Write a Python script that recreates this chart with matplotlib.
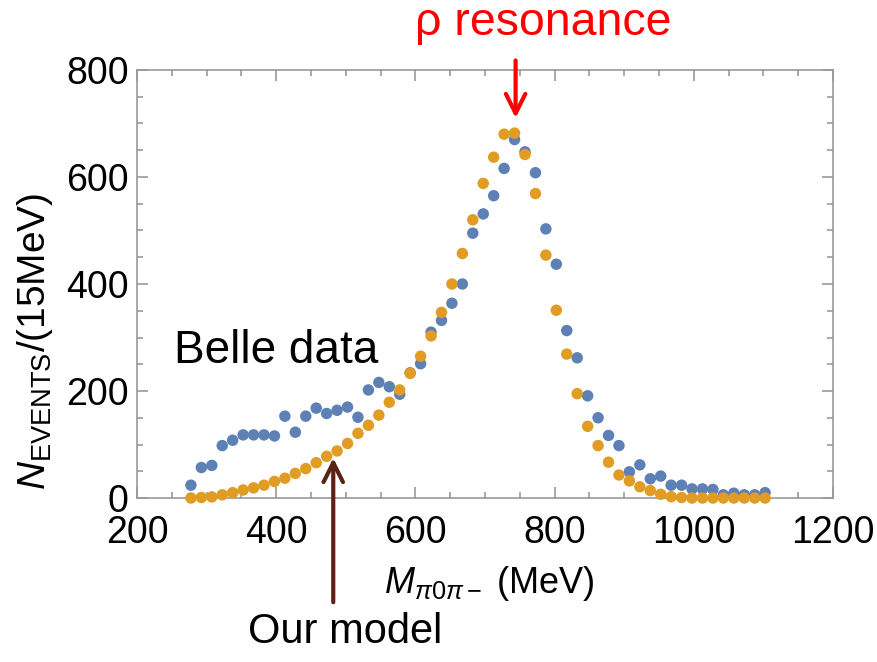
import numpy as np
import matplotlib
matplotlib.use("Agg")
import matplotlib.pyplot as plt
from matplotlib.ticker import MultipleLocator

plt.rcParams['font.family'] = ['Liberation Sans', 'DejaVu Sans']
plt.rcParams['mathtext.fontset'] = 'custom'
plt.rcParams['mathtext.rm'] = 'Liberation Sans'
plt.rcParams['mathtext.it'] = 'Liberation Sans:italic'

# bin centres (MeV), 15 MeV bins
mass = 277.5 + 15 * np.arange(56)

belle = [24, 57, 61, 98, 108, 118, 118, 118, 116, 153,
         123, 153, 168, 158, 164, 170, 151, 202, 216, 208,
         194, 234, 251, 310, 332, 364, 400, 495, 531, 565,
         616, 670, 647, 608, 503, 437, 313, 262, 191, 150,
         117, 98, 49, 62, 36, 41, 24, 24, 17, 17,
         16, 6, 9, 6, 6, 10]

model = [0, 1, 2, 6, 10, 15, 19, 24, 31, 37,
         46, 55, 66, 78, 88, 102, 121, 136, 155, 179,
         202, 233, 265, 303, 347, 400, 457, 520, 588, 637,
         680, 682, 642, 569, 454, 351, 269, 195, 134, 98,
         67, 43, 32, 21, 14, 7, 2.5, 1, 0, 0,
         0, 0, 0, 0, 0, 0]

color_belle = "#5e81b5"
color_model = "#e19c24"
frame_col = "#999999"

fig = plt.figure(figsize=(8.77, 6.62), dpi=100)
ax = fig.add_axes([0.1562, 0.2477, 0.7936, 0.6466])

ax.scatter(mass, belle, s=68, color=color_belle, edgecolors='none', zorder=3, clip_on=False)
ax.scatter(mass, model, s=68, color=color_model, edgecolors='none', zorder=4, clip_on=False)

ax.set_xlim(200, 1200)
ax.set_ylim(0, 800)
ax.xaxis.set_major_locator(MultipleLocator(200))
ax.xaxis.set_minor_locator(MultipleLocator(50))
ax.yaxis.set_major_locator(MultipleLocator(200))
ax.yaxis.set_minor_locator(MultipleLocator(50))
ax.tick_params(which='both', direction='in', top=True, right=True, color=frame_col, width=1.2)
ax.tick_params(which='major', length=8, labelsize=27)
ax.tick_params(which='minor', length=4.5)
ax.tick_params(axis='x', pad=12)
ax.tick_params(axis='y', pad=6)
for sp in ax.spines.values():
    sp.set_color(frame_col)
    sp.set_linewidth(1.2)

fig.text(0.04, 0.485, r'$N_{\mathrm{EVENTS}}$/(15MeV)', rotation=90, fontsize=28,
         ha='center', va='center')
fig.text(0.558, 0.119, r'$M_{\pi0\pi-}$ (MeV)', fontsize=26, ha='center', va='center')

# annotations
ax.annotate('', xy=(744, 705), xytext=(744, 823), annotation_clip=False,
            arrowprops=dict(arrowstyle='->', color='#ff0000', lw=3, mutation_scale=35))
fig.text(0.619, 0.965, 'ρ resonance', color='#ff0000', fontsize=33.5, ha='center', va='center')

ax.annotate('', xy=(482, 80), xytext=(482, -200), annotation_clip=False,
            arrowprops=dict(arrowstyle='->', color='#5c2315', lw=3, mutation_scale=35))
fig.text(0.394, 0.045, 'Our model', color='black', fontsize=30, ha='center', va='center')

fig.text(0.315, 0.47, 'Belle data', color='black', fontsize=33, ha='center', va='center')

fig.savefig('out.png', dpi=100)
